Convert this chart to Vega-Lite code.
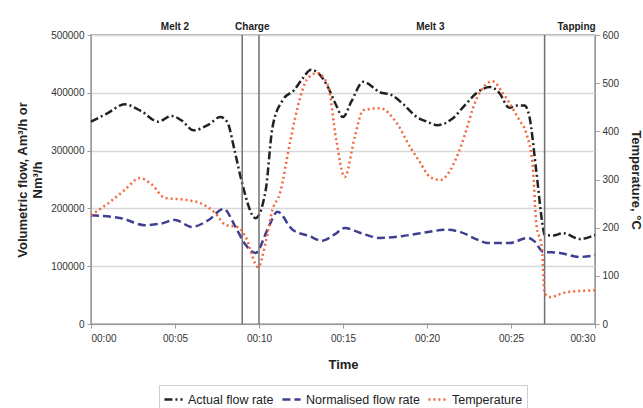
{
  "$schema": "https://vega.github.io/schema/vega-lite/v6.json",
  "width": 504,
  "height": 289,
  "autosize": {"type": "none"},
  "padding": {"left": 91, "top": 35, "right": 48, "bottom": 84},
  "background": "white",
  "config": {
    "font": "Liberation Sans",
    "view": {"stroke": "#9a9a9a", "strokeWidth": 1.5},
    "axis": {"labelFont": "Liberation Sans", "labelFontSize": 10, "labelColor": "#333333", "titleFont": "Liberation Sans", "titleFontSize": 13, "titleFontWeight": "bold", "titleColor": "#222222", "domainColor": "#9a9a9a", "tickColor": "#9a9a9a", "tickSize": 4, "gridColor": "#d8d8d8", "gridWidth": 1.5},
    "legend": {"layout": {"bottom": {"anchor": "middle"}}}
  },
  "datasets": {
    "flow": [
      {"t": 0, "series": "Actual flow rate", "value": 350000},
      {"t": 1, "series": "Actual flow rate", "value": 365000},
      {"t": 2, "series": "Actual flow rate", "value": 380000},
      {"t": 3, "series": "Actual flow rate", "value": 368000},
      {"t": 4, "series": "Actual flow rate", "value": 350000},
      {"t": 4.8, "series": "Actual flow rate", "value": 360000},
      {"t": 5.4, "series": "Actual flow rate", "value": 352000},
      {"t": 6.1, "series": "Actual flow rate", "value": 335000},
      {"t": 7.0, "series": "Actual flow rate", "value": 345000},
      {"t": 7.7, "series": "Actual flow rate", "value": 358000},
      {"t": 8.1, "series": "Actual flow rate", "value": 350000},
      {"t": 8.55, "series": "Actual flow rate", "value": 300000},
      {"t": 8.95, "series": "Actual flow rate", "value": 249000},
      {"t": 9.8, "series": "Actual flow rate", "value": 183000},
      {"t": 10.4, "series": "Actual flow rate", "value": 232000},
      {"t": 10.8, "series": "Actual flow rate", "value": 340000},
      {"t": 11.4, "series": "Actual flow rate", "value": 387000},
      {"t": 12.1, "series": "Actual flow rate", "value": 405000},
      {"t": 12.6, "series": "Actual flow rate", "value": 425000},
      {"t": 13.1, "series": "Actual flow rate", "value": 440000},
      {"t": 13.6, "series": "Actual flow rate", "value": 432000},
      {"t": 14.1, "series": "Actual flow rate", "value": 410000},
      {"t": 14.6, "series": "Actual flow rate", "value": 378000},
      {"t": 15.0, "series": "Actual flow rate", "value": 358000},
      {"t": 15.5, "series": "Actual flow rate", "value": 385000},
      {"t": 16.2, "series": "Actual flow rate", "value": 419000},
      {"t": 17.2, "series": "Actual flow rate", "value": 401000},
      {"t": 17.9, "series": "Actual flow rate", "value": 396000},
      {"t": 18.6, "series": "Actual flow rate", "value": 380000},
      {"t": 19.4, "series": "Actual flow rate", "value": 358000},
      {"t": 20.0, "series": "Actual flow rate", "value": 350000},
      {"t": 20.6, "series": "Actual flow rate", "value": 344000},
      {"t": 21.5, "series": "Actual flow rate", "value": 355000},
      {"t": 22.3, "series": "Actual flow rate", "value": 380000},
      {"t": 23.0, "series": "Actual flow rate", "value": 401000},
      {"t": 23.75, "series": "Actual flow rate", "value": 410000},
      {"t": 24.3, "series": "Actual flow rate", "value": 400000},
      {"t": 24.9, "series": "Actual flow rate", "value": 374000},
      {"t": 25.4, "series": "Actual flow rate", "value": 378000},
      {"t": 25.8, "series": "Actual flow rate", "value": 378000},
      {"t": 26.1, "series": "Actual flow rate", "value": 358000},
      {"t": 26.5, "series": "Actual flow rate", "value": 266000},
      {"t": 26.9, "series": "Actual flow rate", "value": 168000},
      {"t": 27.0, "series": "Actual flow rate", "value": 154000},
      {"t": 27.5, "series": "Actual flow rate", "value": 153000},
      {"t": 28.1, "series": "Actual flow rate", "value": 157000},
      {"t": 29.1, "series": "Actual flow rate", "value": 147000},
      {"t": 30, "series": "Actual flow rate", "value": 154000},
      {"t": 0, "series": "Normalised flow rate", "value": 188000},
      {"t": 1.8, "series": "Normalised flow rate", "value": 183000},
      {"t": 3.2, "series": "Normalised flow rate", "value": 171000},
      {"t": 4.2, "series": "Normalised flow rate", "value": 174000},
      {"t": 5.0, "series": "Normalised flow rate", "value": 180000},
      {"t": 6.0, "series": "Normalised flow rate", "value": 168000},
      {"t": 7.0, "series": "Normalised flow rate", "value": 180000},
      {"t": 7.9, "series": "Normalised flow rate", "value": 199000},
      {"t": 8.6, "series": "Normalised flow rate", "value": 168000},
      {"t": 9.2, "series": "Normalised flow rate", "value": 137000},
      {"t": 9.8, "series": "Normalised flow rate", "value": 123000},
      {"t": 10.5, "series": "Normalised flow rate", "value": 163000},
      {"t": 11.1, "series": "Normalised flow rate", "value": 194000},
      {"t": 12.0, "series": "Normalised flow rate", "value": 163000},
      {"t": 13.0, "series": "Normalised flow rate", "value": 152000},
      {"t": 13.75, "series": "Normalised flow rate", "value": 144000},
      {"t": 14.5, "series": "Normalised flow rate", "value": 155000},
      {"t": 15.1, "series": "Normalised flow rate", "value": 166000},
      {"t": 16.0, "series": "Normalised flow rate", "value": 158000},
      {"t": 17.2, "series": "Normalised flow rate", "value": 149000},
      {"t": 18.5, "series": "Normalised flow rate", "value": 152000},
      {"t": 19.6, "series": "Normalised flow rate", "value": 157000},
      {"t": 21.2, "series": "Normalised flow rate", "value": 163000},
      {"t": 22.0, "series": "Normalised flow rate", "value": 159000},
      {"t": 23.0, "series": "Normalised flow rate", "value": 146000},
      {"t": 23.6, "series": "Normalised flow rate", "value": 140000},
      {"t": 24.9, "series": "Normalised flow rate", "value": 140000},
      {"t": 26.0, "series": "Normalised flow rate", "value": 149000},
      {"t": 26.4, "series": "Normalised flow rate", "value": 143000},
      {"t": 26.9, "series": "Normalised flow rate", "value": 125000},
      {"t": 27.9, "series": "Normalised flow rate", "value": 123000},
      {"t": 29.1, "series": "Normalised flow rate", "value": 116000},
      {"t": 30, "series": "Normalised flow rate", "value": 119000}
    ],
    "temp": [
      {"t": 0, "series": "Temperature", "value": 226},
      {"t": 1, "series": "Temperature", "value": 250},
      {"t": 2, "series": "Temperature", "value": 278},
      {"t": 2.9, "series": "Temperature", "value": 303},
      {"t": 3.6, "series": "Temperature", "value": 290},
      {"t": 4.4, "series": "Temperature", "value": 262},
      {"t": 5.8, "series": "Temperature", "value": 257},
      {"t": 6.5, "series": "Temperature", "value": 251},
      {"t": 7.4, "series": "Temperature", "value": 230},
      {"t": 8.0, "series": "Temperature", "value": 206},
      {"t": 8.75, "series": "Temperature", "value": 201},
      {"t": 9.2, "series": "Temperature", "value": 181},
      {"t": 9.95, "series": "Temperature", "value": 118},
      {"t": 10.4, "series": "Temperature", "value": 170},
      {"t": 10.8, "series": "Temperature", "value": 237},
      {"t": 11.25, "series": "Temperature", "value": 272},
      {"t": 11.85, "series": "Temperature", "value": 378},
      {"t": 12.3, "series": "Temperature", "value": 450},
      {"t": 12.85, "series": "Temperature", "value": 507},
      {"t": 13.45, "series": "Temperature", "value": 521},
      {"t": 14.1, "series": "Temperature", "value": 496},
      {"t": 14.6, "series": "Temperature", "value": 382},
      {"t": 15.1, "series": "Temperature", "value": 305},
      {"t": 15.7, "series": "Temperature", "value": 388},
      {"t": 16.2, "series": "Temperature", "value": 444},
      {"t": 17.2, "series": "Temperature", "value": 448},
      {"t": 18.2, "series": "Temperature", "value": 417},
      {"t": 19.0, "series": "Temperature", "value": 367},
      {"t": 19.5, "series": "Temperature", "value": 340},
      {"t": 20.2, "series": "Temperature", "value": 305},
      {"t": 20.8, "series": "Temperature", "value": 299},
      {"t": 21.4, "series": "Temperature", "value": 320},
      {"t": 22.0, "series": "Temperature", "value": 367},
      {"t": 23.0, "series": "Temperature", "value": 471},
      {"t": 23.9, "series": "Temperature", "value": 504},
      {"t": 24.5, "series": "Temperature", "value": 480},
      {"t": 25.5, "series": "Temperature", "value": 423},
      {"t": 25.9, "series": "Temperature", "value": 397},
      {"t": 26.3, "series": "Temperature", "value": 326},
      {"t": 26.5, "series": "Temperature", "value": 210},
      {"t": 26.85, "series": "Temperature", "value": 154},
      {"t": 27.0, "series": "Temperature", "value": 64},
      {"t": 27.3, "series": "Temperature", "value": 56},
      {"t": 28.3, "series": "Temperature", "value": 66},
      {"t": 30, "series": "Temperature", "value": 70}
    ],
    "events": [
      {"t": 9},
      {"t": 10},
      {"t": 27}
    ],
    "phases": [
      {"t": 5, "label": "Melt 2"},
      {"t": 9.6, "label": "Charge"},
      {"t": 20.2, "label": "Melt 3"},
      {"t": 28.9, "label": "Tapping"}
    ]
  },
  "encoding": {
    "x": {
      "field": "t", "type": "quantitative",
      "scale": {"domain": [0, 30], "nice": false},
      "axis": {"values": [0, 5, 10, 15, 20, 25, 30], "grid": false, "title": "Time", "titlePadding": 15, "labelPadding": 5,
        "labelExpr": "'00:' + (datum.value < 10 ? '0' : '') + datum.value"}
    }
  },
  "layer": [
    {
      "layer": [
        {
          "data": {"name": "flow"},
          "mark": {"type": "line", "interpolate": "monotone", "strokeWidth": 2.5},
          "encoding": {
            "y": {
              "field": "value", "type": "quantitative",
              "scale": {"domain": [0, 500000], "nice": false},
              "axis": {"values": [0, 50000, 100000, 150000, 200000, 250000, 300000, 350000, 400000, 450000, 500000], "format": "d", "grid": true, "gridColor": "#d8d8d8", "gridWidth": 1.5, "labelPadding": 3,
                "title": ["Volumetric flow, Am³/h or", "Nm³/h"], "titlePadding": 6, "titleLineHeight": 15}
            },
            "color": {"field": "series", "type": "nominal",
              "scale": {"domain": ["Actual flow rate", "Normalised flow rate", "Temperature"], "range": ["#222222", "#3f3f92", "#f4673f"]},
              "legend": {"title": null, "orient": "bottom", "direction": "horizontal", "symbolType": "stroke", "symbolSize": 330, "symbolStrokeWidth": 2.5, "labelFontSize": 12.5, "labelColor": "#222222", "strokeColor": "#d0d0d0", "padding": 4, "columnPadding": 3, "symbolOffset": 0, "labelOffset": 4, "offset": 14}},
            "strokeDash": {"field": "series", "type": "nominal",
              "scale": {"domain": ["Actual flow rate", "Normalised flow rate", "Temperature"], "range": [[8, 3, 2, 3], [8, 4], [2, 3]]},
              "legend": {"title": null, "orient": "bottom", "direction": "horizontal", "symbolType": "stroke", "symbolSize": 330, "symbolStrokeWidth": 2.5, "labelFontSize": 12.5, "labelColor": "#222222", "strokeColor": "#d0d0d0", "padding": 4, "columnPadding": 3, "symbolOffset": 0, "labelOffset": 4, "offset": 14}}
          }
        },
        {
          "data": {"name": "events"},
          "mark": {"type": "rule", "color": "#707070", "strokeWidth": 1.5},
          "encoding": {}
        },
        {
          "data": {"name": "phases"},
          "mark": {"type": "text", "font": "Liberation Sans", "fontSize": 10, "fontWeight": "bold", "color": "#222222", "baseline": "bottom", "dy": -3, "clip": false},
          "encoding": {
            "y": {"datum": 500000, "type": "quantitative"},
            "text": {"field": "label"}
          }
        }
      ]
    },
    {
      "data": {"name": "temp"},
      "mark": {"type": "line", "interpolate": "monotone", "strokeWidth": 2.5},
      "encoding": {
        "y": {
          "field": "value", "type": "quantitative",
          "scale": {"domain": [0, 600], "nice": false},
          "axis": {"orient": "right", "values": [0, 100, 200, 300, 400, 500, 600], "grid": false, "title": "Temperature, °C", "titlePadding": 10, "labelPadding": 3}
        },
        "color": {"field": "series", "type": "nominal"},
        "strokeDash": {"field": "series", "type": "nominal"}
      }
    }
  ],
  "resolve": {"scale": {"y": "independent"}, "axis": {"y": "independent"}}
}
